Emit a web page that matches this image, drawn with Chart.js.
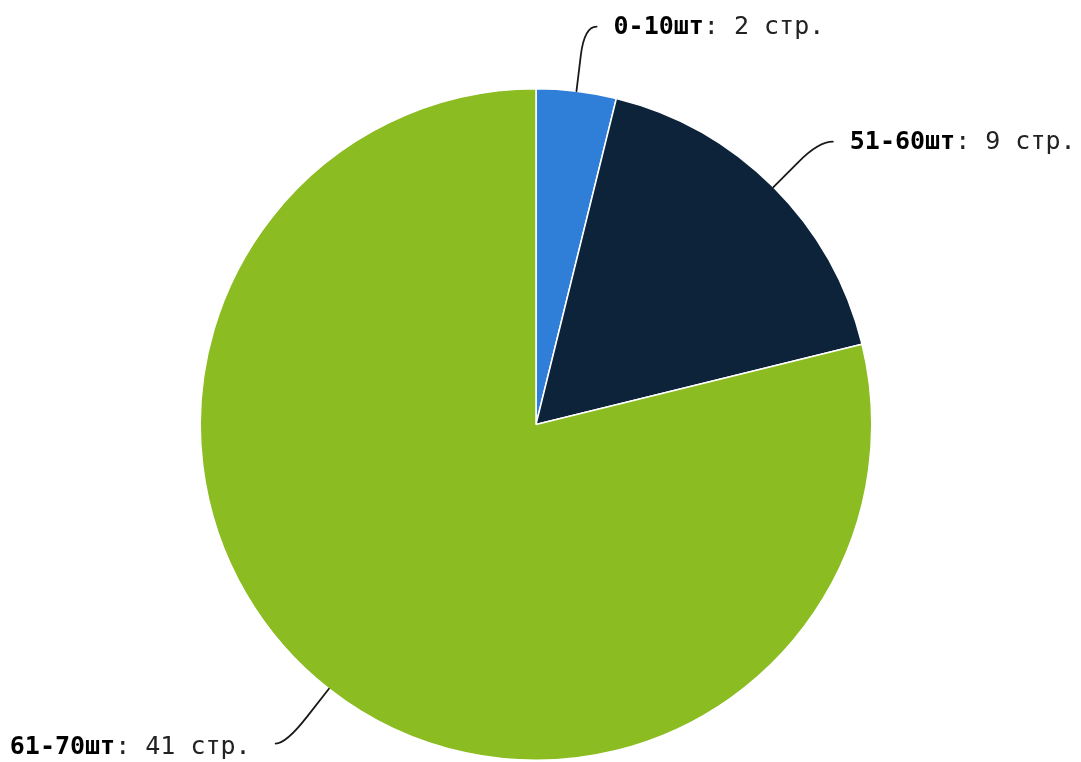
<!DOCTYPE html>
<html>
<head>
<meta charset="utf-8">
<script src="https://cdn.jsdelivr.net/npm/chart.js@4"></script>
<style>
html,body{margin:0;padding:0;background:#fff;}
#wrap{width:1081px;height:762px;}
</style>
</head>
<body>
<div id="wrap"><canvas id="c" width="1081" height="762"></canvas></div>
<script>
const categories = ['0-10шт', '51-60шт', '61-70шт'];
const values = [2, 9, 41];
const unit = 'стр.';
const colors = ['#2f7ed8', '#0d233a', '#8bbc21'];

const FONT = '"DejaVu Sans Mono", monospace';
const FS = 25;

const labelPlugin = {
  id: 'pieLabels',
  afterDatasetsDraw(chart) {
    const ctx = chart.ctx;
    const meta = chart.getDatasetMeta(0);
    ctx.save();
    meta.data.forEach((arc, i) => {
      const p = arc.getProps(['x', 'y', 'startAngle', 'endAngle', 'outerRadius'], true);
      const mid = (p.startAngle + p.endAngle) / 2;
      const r = p.outerRadius;
      const c = Math.cos(mid), s = Math.sin(mid);
      const side = c >= 0 ? 1 : -1;
      const touch = { x: p.x + r * c, y: p.y + r * s };
      const brk = { x: p.x + (r + 36) * c, y: p.y + (r + 36) * s };
      const R = r + 67;
      const ly0 = p.y + R * s;
      const dy = ly0 - p.y;
      const lx = p.x + side * Math.sqrt(Math.max(R * R - dy * dy, 0)) + side * 12;
      const ly = ly0 + 2;
      const t = Math.abs(s) > 0.05 ? (ly - p.y) / s : R;
      const ctrl = { x: p.x + t * c, y: ly };
      ctx.beginPath();
      ctx.moveTo(touch.x, touch.y);
      ctx.lineTo(brk.x, brk.y);
      ctx.quadraticCurveTo(ctrl.x, ctrl.y, lx, ly);
      ctx.strokeStyle = '#1a1a1a';
      ctx.lineWidth = 1.8;
      ctx.lineCap = 'round';
      ctx.stroke();

      const boldText = categories[i];
      const restText = ': ' + values[i] + ' ' + unit;
      ctx.textBaseline = 'middle';
      ctx.textAlign = 'left';
      ctx.font = 'bold ' + FS + 'px ' + FONT;
      const wb = ctx.measureText(boldText).width;
      ctx.font = FS + 'px ' + FONT;
      const wr = ctx.measureText(restText).width;
      const tx = side > 0 ? lx + 17 : lx - 25 - wb - wr;
      const ty = ly + (side > 0 ? 1 : 4);
      ctx.fillStyle = '#000';
      ctx.font = 'bold ' + FS + 'px ' + FONT;
      ctx.fillText(boldText, tx, ty);
      ctx.font = FS + 'px ' + FONT;
      ctx.fillStyle = '#222';
      ctx.fillText(restText, tx + wb, ty);
    });
    ctx.restore();
  }
};

new Chart(document.getElementById('c'), {
  type: 'pie',
  data: {
    labels: categories,
    datasets: [{
      data: values,
      backgroundColor: colors,
      borderColor: '#ffffff',
      borderWidth: 1.5
    }]
  },
  options: {
    responsive: false,
    animation: false,
    layout: { padding: { top: 88, bottom: 1, left: 0, right: 9 } },
    plugins: { legend: { display: false }, tooltip: { enabled: false } }
  },
  plugins: [labelPlugin]
});
</script>
</body>
</html>
